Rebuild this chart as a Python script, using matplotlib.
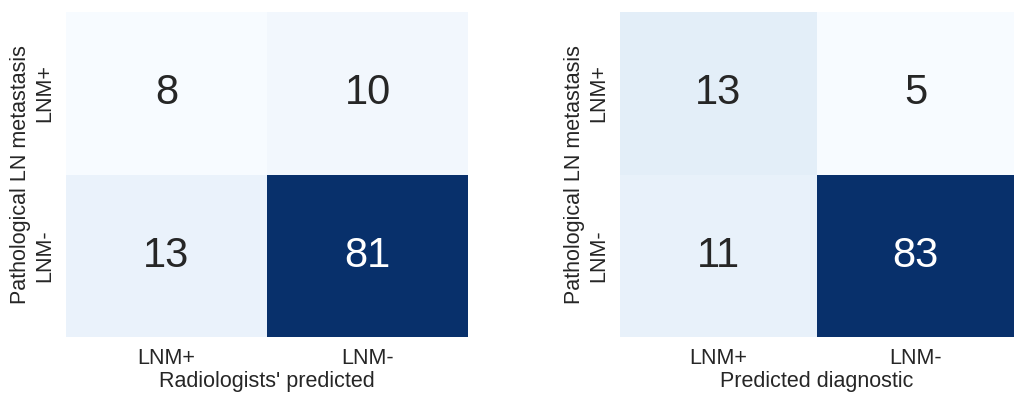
import numpy as np
import matplotlib
matplotlib.use("Agg")
import matplotlib.pyplot as plt
import seaborn as sns

labels = ["LNM+", "LNM-"]
radiologists_cm = [[8, 10], [13, 81]]
model_cm = [[13, 5], [11, 83]]
xlabels = ["Radiologists' predicted", "Predicted diagnostic"]
ylabel = "Pathological LN metastasis"

sns.set_theme(style="white")
plt.rcParams["font.family"] = ["Liberation Sans", "DejaVu Sans"]

fig = plt.figure(figsize=(10.14, 3.94), dpi=100)
ax1 = fig.add_axes([66 / 1014, 57 / 394, 402 / 1014, 325 / 394])
ax2 = fig.add_axes([620 / 1014, 57 / 394, 394 / 1014, 325 / 394])

for ax, cm, xl in zip([ax1, ax2], [radiologists_cm, model_cm], xlabels):
    sns.heatmap(np.array(cm), ax=ax, cmap="Blues", annot=True, fmt="d", cbar=False,
                annot_kws={"size": 30}, xticklabels=labels, yticklabels=labels)
    ax.set_xlabel(xl, fontsize=15.5, labelpad=1)
    ax.set_ylabel(ylabel, fontsize=15.5, labelpad=2)
    ax.tick_params(axis="x", labelsize=15.5, length=0, pad=8)
    ax.tick_params(axis="y", labelsize=15.5, length=0, pad=8)
    ax.set_yticklabels(labels, rotation=90, va="center")

fig.savefig("out.png", dpi=100)
